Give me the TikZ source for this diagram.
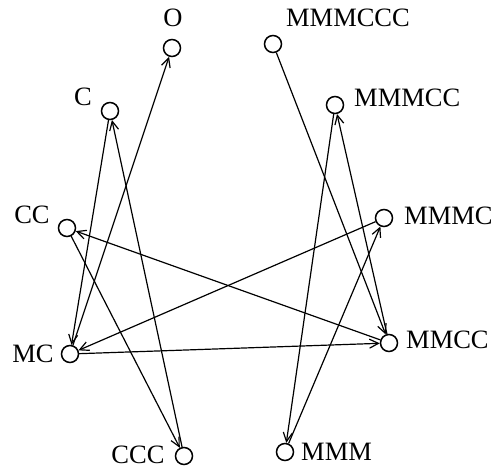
\documentclass[tikz,border=0pt]{standalone}
\usepackage{fontspec}
\setmainfont{Liberation Serif}
\usetikzlibrary{arrows.meta}
\begin{document}
\begin{tikzpicture}[x=1pt,y=-1pt,
  st/.style={circle,draw,line width=1.5pt,minimum size=17pt,inner sep=0pt},
  lab/.style={inner sep=0pt,font=\fontsize{26.5}{26.5}\selectfont},
  edge/.style={line width=1.2pt,-{Straight Barb[length=9pt,width=9pt,line width=1.2pt]}}]
\useasboundingbox (0,0) rectangle (496,470);
\node[st] (O) at (172,48) {};
\node[st] (C) at (110,111) {};
\node[st] (CC) at (67,228) {};
\node[st] (MC) at (70,354) {};
\node[st] (CCC) at (184,456) {};
\node[st] (MMMCCC) at (273,44) {};
\node[st] (MMMCC) at (335,105) {};
\node[st] (MMMC) at (384,218) {};
\node[st] (MMCC) at (389,343) {};
\node[st] (MMM) at (285,452) {};
\node[lab] (lO) at (173,18) {O};
\node[lab] (lC) at (83,97) {C};
\node[lab] (lCC) at (32,215) {CC};
\node[lab] (lMC) at (33,354) {MC};
\node[lab] (lCCC) at (138,455) {CCC};
\node[lab] (lMMMCCC) at (348,18) {MMMCCC};
\node[lab,anchor=west] (lMMMCC) at (354,98) {MMMCC};
\node[lab,anchor=west] (lMMMC) at (404,216) {MMMC};
\node[lab,anchor=west] (lMMCC) at (406,340) {MMCC};
\node[lab,anchor=west] (lMMM) at (301,452) {MMM};
\draw[edge] (MC) -- (O);
\draw[edge] (C) -- (MC);
\draw[edge] (CCC) -- (C);
\draw[edge] (CC) -- (CCC);
\draw[edge] (MMCC) -- (CC);
\draw[edge] (MMMC) -- (MC);
\draw[edge] (MC) -- (MMCC);
\draw[edge] (MMMCCC) -- (MMCC);
\draw[edge] (MMCC) -- (MMMCC);
\draw[edge] (MMMCC) -- (MMM);
\draw[edge] (MMM) -- (MMMC);
\end{tikzpicture}
\end{document}
